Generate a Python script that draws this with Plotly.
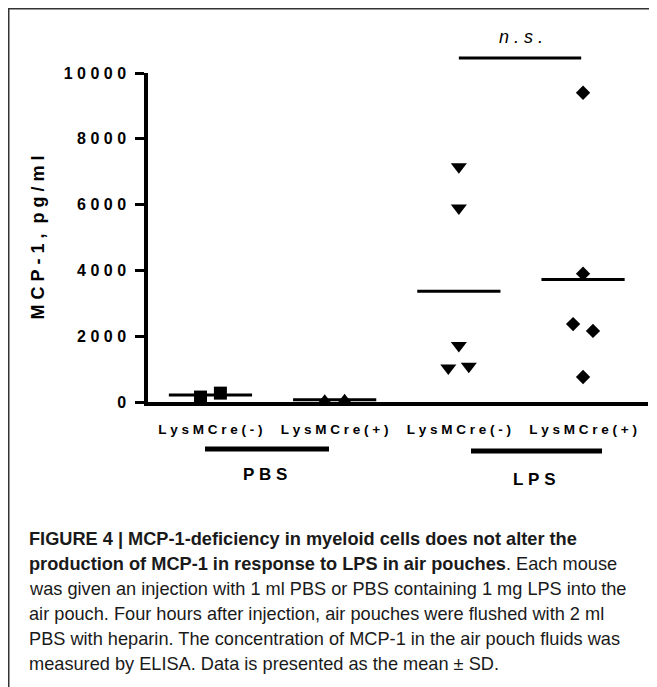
import plotly.graph_objects as go

# ---- data ----
categories = ["LysMCre(-)", "LysMCre(+)", "LysMCre(-)", "LysMCre(+)"]
groups = ["PBS", "LPS"]
pbs_neg = [150, 270]
pbs_pos = [50, 70]
lps_neg = [7150, 5900, 1720, 1030, 1090]
lps_pos = [9400, 3900, 2370, 2160, 760]
means = [210, 70, 3370, 3720]
y_ticks = [0, 2000, 4000, 6000, 8000, 10000]
sig_text = "n.s."

# horizontal jitter of the points within a column (x units)
jit_pbs_neg = [-0.08, 0.08]
jit_pbs_pos = [-0.08, 0.08]
jit_lps_neg = [0.0, 0.0, 0.0, -0.085, 0.08]
jit_lps_pos = [0.0, 0.0, -0.08, 0.08, 0.0]

W, H = 657, 687
OFF = 8                      # page offset of the figure in the screenshot
L, R, T, B = 140, 17, 65, 293
PW, PH = W - L - R, H - T - B
XR = [-0.503, 3.523]
YR = [0, 10000]


def spaced(s):
    return "\u00a0".join(list(s))


def px_x(sx):               # screen pixel -> paper
    return (sx - OFF - L) / PW


def px_y(sy):
    return (H - B - (sy - OFF)) / PH


def dx_paper(xv):
    return (xv - XR[0]) / (XR[1] - XR[0])


fig = go.Figure()

series = [
    (pbs_neg, jit_pbs_neg, "square", 13),
    (pbs_pos, jit_pbs_pos, "triangle-up", 12),
    (lps_neg, jit_lps_neg, "triangle-down", 14),
    (lps_pos, jit_lps_pos, "diamond", 11),
]
for i, (vals, jit, sym, sz) in enumerate(series):
    fig.add_trace(go.Scatter(
        x=[i + j for j in jit], y=vals, mode="markers",
        marker=dict(symbol=sym, size=sz, color="black", line=dict(width=0)),
        cliponaxis=False, showlegend=False, hoverinfo="y"))

# mean lines
mx, my = [], []
for i, m in enumerate(means):
    mx += [i - 0.335, i + 0.335, None]
    my += [m, m, None]
fig.add_trace(go.Scatter(x=mx, y=my, mode="lines",
                         line=dict(color="black", width=3),
                         cliponaxis=False, showlegend=False, hoverinfo="skip"))

FAM = "Liberation Sans, Arial, sans-serif"
font_b = dict(family=FAM, color="black", weight=700)

fig.update_layout(
    width=W, height=H, margin=dict(l=L, r=R, t=T, b=B),
    paper_bgcolor="white", plot_bgcolor="white",
    xaxis=dict(range=XR, showgrid=False, zeroline=False, showline=True,
               linewidth=3.5, linecolor="black", ticks="",
               tickvals=list(range(len(categories))),
               ticktext=[spaced(c) for c in categories],
               tickfont=dict(size=13.5, **font_b), ticklabelstandoff=12),
    yaxis=dict(range=YR, showgrid=False, zeroline=False, showline=True,
               linewidth=3.5, linecolor="black", ticks="outside", ticklen=9,
               tickwidth=3, tickcolor="black",
               tickvals=y_ticks, ticktext=[spaced(str(v)) for v in y_ticks],
               tickfont=dict(size=16, **font_b), ticklabelstandoff=6),
)

ann = []
# y axis title
ann.append(dict(text=spaced("MCP-1,") + "\u00a0\u00a0" + spaced("pg/ml"),
                xref="paper", yref="paper", x=px_x(37), y=0.5, textangle=-90,
                xanchor="center", yanchor="middle",
                showarrow=False, font=dict(size=18, **font_b)))
# group labels + bars
shapes = []
grp_bars = [(205, 329, 449, 265, 475), (471, 602, 451, 534, 479)]
for g, (x0, x1, yb, xt, yt) in zip(groups, grp_bars):
    shapes.append(dict(type="line", xref="paper", yref="paper",
                       x0=px_x(x0), x1=px_x(x1), y0=px_y(yb), y1=px_y(yb),
                       line=dict(color="black", width=5)))
    ann.append(dict(text=spaced(g), xref="paper", yref="paper",
                    x=px_x(xt), y=px_y(yt), showarrow=False,
                    xanchor="center", yanchor="middle",
                    font=dict(size=17, **font_b)))
# significance
shapes.append(dict(type="line", xref="paper", yref="paper",
                   x0=dx_paper(2.0), x1=dx_paper(2.985), y0=px_y(58), y1=px_y(58),
                   line=dict(color="black", width=3)))
ann.append(dict(text="<i>" + " ".join(list(sig_text)) + "</i>",
                xref="paper", yref="paper", x=dx_paper(2.5), y=px_y(37),
                xanchor="center", yanchor="middle", showarrow=False,
                font=dict(size=18, family=FAM, color="black")))
# frame
shapes.append(dict(type="rect", xref="paper", yref="paper",
                   x0=px_x(8.75), x1=px_x(650), y0=px_y(8.75), y1=px_y(720),
                   line=dict(color="#333", width=1.5)))

caption = [
    "<b>FIGURE 4 | MCP-1-deficiency in myeloid cells does not alter the</b>",
    "<b>production of MCP-1 in response to LPS in air pouches</b>. Each mouse",
    "was given an injection with 1 ml PBS or PBS containing 1 mg LPS into the",
    "air pouch. Four hours after injection, air pouches were flushed with 2 ml",
    "PBS with heparin. The concentration of MCP-1 in the air pouch fluids was",
    "measured by ELISA. Data is presented as the mean \u00b1 SD.",
]
for k, line in enumerate(caption):
    ann.append(dict(text=line, xref="paper", yref="paper", x=px_x(27),
                    y=px_y(539 + 25 * k), xanchor="left", yanchor="middle",
                    showarrow=False,
                    font=dict(size=18.2, family=FAM, color="#1a1a1a")))

fig.update_layout(annotations=ann, shapes=shapes)
fig.write_html("out.html")
